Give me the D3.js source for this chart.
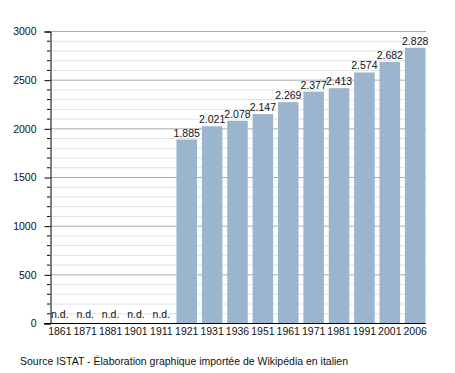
<!DOCTYPE html>
<html>
<head>
<meta charset="utf-8">
<script src="https://cdn.jsdelivr.net/npm/d3@7"></script>
<style>
body { margin: 0; background: #fff; }
text { font-family: "Liberation Sans", Arial, sans-serif; }
</style>
</head>
<body>
<div id="chart"></div>
<script>
// anni dei censimenti e abitanti (null = dato non disponibile)
let years = ["1861","1871","1881","1901","1911","1921","1931","1936","1951","1961","1971","1981","1991","2001","2006"];
let population = [null, null, null, null, null, 1885, 2021, 2078, 2147, 2269, 2377, 2413, 2574, 2682, 2828];
let yTicks = [0, 500, 1000, 1500, 2000, 2500, 3000];
let sourceText = "Source ISTAT - Élaboration graphique importée de Wikipédia en italien";

let width = 455, height = 373;
let margin = {top: 31, right: 28, bottom: 50, left: 50};

let svg = d3.select("#chart").append("svg")
    .attr("width", width)
    .attr("height", height);

let x = d3.scaleBand()
    .domain(years)
    .range([47, 428])
    .paddingInner(0.19)
    .paddingOuter(0.1);

let y = d3.scaleLinear()
    .domain([0, 3000])
    .range([323, 31]);

// griglia secondaria ogni 100
let minor = d3.range(100, 3001, 100).filter(function(d){ return d % 500 != 0; });
svg.selectAll(".minor")
    .data(minor)
    .enter().append("line")
    .attr("x1", 50).attr("x2", 426)
    .attr("y1", function(d){ return y(d) + 0.5; })
    .attr("y2", function(d){ return y(d) + 0.5; })
    .attr("stroke", "#e2e2e2");

svg.selectAll(".major")
    .data(yTicks.filter(function(d){ return d > 0; }))
    .enter().append("line")
    .attr("x1", 50).attr("x2", 426)
    .attr("y1", function(d){ return y(d) + 0.5; })
    .attr("y2", function(d){ return y(d) + 0.5; })
    .attr("stroke", "#aaaaaa");

// barre
svg.selectAll(".bar")
    .data(years.filter(function(d, i){ return population[i] != null; }))
    .enter().append("rect")
    .attr("x", function(d){ return x(d); })
    .attr("y", function(d){ return y(population[years.indexOf(d)]); })
    .attr("width", x.bandwidth())
    .attr("height", function(d){ return y(0) - y(population[years.indexOf(d)]); })
    .attr("fill", "#9cb5cf");

// etichette valori
svg.selectAll(".val")
    .data(years)
    .enter().append("text")
    .attr("x", function(d){ return x(d) + x.bandwidth() / 2; })
    .attr("y", function(d, i){ return population[i] == null ? 318 : y(population[i]) - 3; })
    .attr("text-anchor", "middle")
    .style("font-size", "10.5px")
    .attr("fill", "#111")
    .text(function(d, i){
        let v = population[i];
        if (v == null) return "n.d.";
        return d3.format(",")(v).replace(",", ".");
    });

// asse y
let yAxis = d3.axisLeft(y).tickValues(yTicks).tickSize(6).tickFormat(d3.format("d"));
let ga = svg.append("g").attr("transform", "translate(50.5,0.5)").call(yAxis);
ga.select(".domain").attr("stroke", "#000");
ga.selectAll(".tick text").attr("x", -14).style("font-size", "10.5px").attr("fill", "#111");
ga.selectAll(".tick line").attr("stroke", "#000");

svg.selectAll(".ytickminor")
    .data(minor)
    .enter().append("line")
    .attr("x1", 47).attr("x2", 50)
    .attr("y1", function(d){ return y(d) + 0.5; })
    .attr("y2", function(d){ return y(d) + 0.5; })
    .attr("stroke", "#000");

// asse x
svg.append("line")
    .attr("x1", 44).attr("x2", 426)
    .attr("y1", y(0) + 0.5).attr("y2", y(0) + 0.5)
    .attr("stroke", "#000");

svg.selectAll(".xlab")
    .data(years)
    .enter().append("text")
    .attr("x", function(d){ return x(d) + x.bandwidth() / 2; })
    .attr("y", 335)
    .attr("text-anchor", "middle")
    .style("font-size", "10.5px")
    .attr("fill", "#111")
    .text(function(d){ return d; });

svg.append("text")
    .attr("x", 20)
    .attr("y", 365)
    .style("font-size", "10.5px")
    .attr("fill", "#111")
    .text(sourceText);
</script>
</body>
</html>
